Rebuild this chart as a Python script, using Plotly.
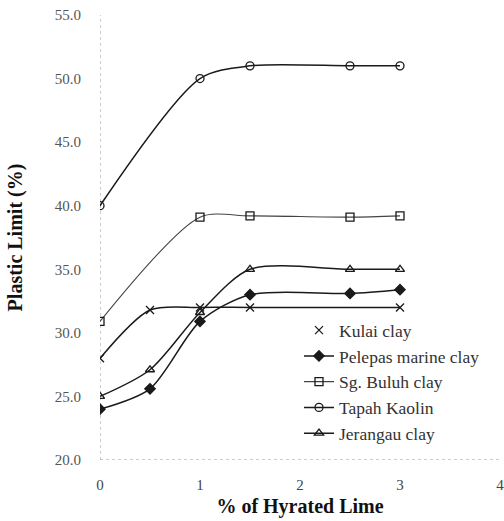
import plotly.graph_objects as go

# ---- data ----
kulai_x = [0, 0.5, 1, 1.5, 3]
kulai_y = [28.0, 31.8, 32.0, 32.0, 32.0]

pelepas_x = [0, 0.5, 1, 1.5, 2.5, 3]
pelepas_y = [24.0, 25.6, 30.9, 33.0, 33.1, 33.4]

buluh_x = [0, 1, 1.5, 2.5, 3]
buluh_y = [30.9, 39.1, 39.2, 39.1, 39.2]

tapah_x = [0, 1, 1.5, 2.5, 3]
tapah_y = [40.0, 50.0, 51.0, 51.0, 51.0]

jerangau_x = [0, 0.5, 1, 1.5, 2.5, 3]
jerangau_y = [25.0, 27.1, 31.6, 35.0, 35.0, 35.0]

x_ticks = [0, 1, 2, 3, 4]
y_ticks = [20, 25, 30, 35, 40, 45, 50, 55]

SERIF = "Liberation Serif"
LC = "#1a1a1a"

fig = go.Figure()

def add(name, xs, ys, symbol, size, width=1.5, color=LC, legend=True):
    fig.add_trace(go.Scatter(
        x=xs, y=ys, name=name, mode="lines+markers",
        line=dict(color=color, width=width, shape="spline", smoothing=0.8),
        marker=dict(symbol=symbol, size=size, color=LC,
                    line=dict(color=LC, width=1.3)),
        showlegend=legend, legendgroup=name,
    ))

# Kulai: real line without legend, legend entry marker only
add("Kulai clay", kulai_x, kulai_y, "x-thin-open", 8, legend=False)
fig.add_trace(go.Scatter(
    x=[None], y=[None], name="Kulai clay", mode="markers",
    marker=dict(symbol="x-thin-open", size=8, color=LC, line=dict(color=LC, width=1.3)),
    legendgroup="Kulai clay",
))
add("Pelepas marine clay", pelepas_x, pelepas_y, "diamond", 8)
add("Sg. Buluh clay", buluh_x, buluh_y, "square-open", 8, width=1.1, color="#444")
add("Tapah Kaolin", tapah_x, tapah_y, "circle-open", 8)
add("Jerangau clay", jerangau_x, jerangau_y, "triangle-up-open", 8)

# dotted axis lines
fig.add_shape(type="line", xref="x", yref="y", x0=0, x1=0, y0=20, y1=55,
              line=dict(color="#999", width=1, dash="dot"), layer="below")
fig.add_shape(type="line", xref="x", yref="y", x0=0, x1=4, y0=20, y1=20,
              line=dict(color="#999", width=1, dash="dot"), layer="below")

fig.update_layout(
    width=504, height=521,
    margin=dict(l=100, r=4, t=15, b=61),
    paper_bgcolor="white", plot_bgcolor="white",
    font=dict(family=SERIF, color="#333"),
    xaxis=dict(range=[0, 4], tickvals=x_ticks, ticktext=[str(v) for v in x_ticks],
               showgrid=False, zeroline=False, showline=False,
               tickfont=dict(size=15, color="#444", family=SERIF), ticklabelstandoff=14,
               ticklabeloverflow="allow",
               automargin=False,
               title=dict(text="<b>% of Hyrated Lime</b>", standoff=6,
                          font=dict(size=20, color="#111", family=SERIF))),
    yaxis=dict(range=[20, 55], tickvals=y_ticks, ticktext=[f"{v:.1f}" for v in y_ticks],
               showgrid=False, zeroline=False, showline=False,
               tickfont=dict(size=15, color="#555", family=SERIF), ticklabelstandoff=18,
               automargin=False,
               title=dict(text="<b>Plastic Limit (%)</b>", standoff=26,
                          font=dict(size=20, color="#111", family=SERIF))),
    legend=dict(x=0.4975, y=0.332, xanchor="left", yanchor="top",
                bgcolor="rgba(0,0,0,0)", font=dict(size=17.5, color="#333", family=SERIF),
                traceorder="grouped", tracegroupgap=0, itemwidth=30),
)

fig.write_html("out.html")
